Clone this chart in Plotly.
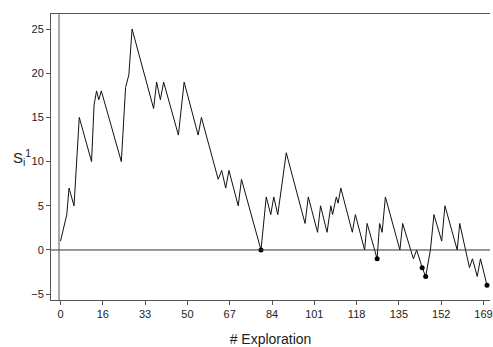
import plotly.graph_objects as go

# Vertices of the S_i^1 curve
x_vals = [0, 2.5, 3.4, 5.4, 7.5, 12.4, 13.4, 14.4, 15.3, 16.3, 24.3, 26.0, 27.3, 28.6,
          37.2, 38.4, 39.9, 41.2, 47.1, 49.4, 55.0, 56.3, 63.0, 64.4, 66.0, 67.3, 71.0,
          72.3, 80.1, 82.2, 84.0, 85.2, 86.8, 90.2, 97.7, 99.0, 102.7, 103.9, 106.5, 108.0,
          108.7, 110.2, 110.9, 112.0, 116.6, 117.8, 121.5, 122.5, 126.5, 127.5, 128.5,
          129.8, 135.6, 136.7, 141.0, 142.3, 144.5, 145.9, 147.8, 149.2, 152.3, 153.6,
          158.5, 159.5, 163.4, 164.6, 166.5, 167.8, 170.4]
y_vals = [1, 4, 7, 5, 15, 10, 16.4, 18, 17, 18, 10, 18.4, 19.8, 25,
          16, 19, 17, 19, 13, 19, 13, 15, 8, 9, 7, 9, 5,
          8, 0, 6, 4, 6, 4, 11, 3, 6, 2, 5, 2, 5,
          4, 6, 5.3, 7, 2, 4, 0, 3, -1, 3, 2,
          6, 0, 3, -1, 0, -2, -3, 0, 4, 1, 5,
          0, 3, -2, -1, -3, -1, -4]

# Highlighted points (black dots)
mark_x = [80.1, 126.5, 144.5, 145.9, 170.4]
mark_y = [0, -1, -2, -3, -4]

tick_labels = ["0", "16", "33", "50", "67", "84", "101", "118", "135", "152", "169"]
tick_pos = [k * 16.9 for k in range(len(tick_labels))]
y_ticks = [-5, 0, 5, 10, 15, 20, 25]

fig = go.Figure()
fig.add_trace(go.Scatter(x=x_vals, y=y_vals, mode="lines",
                         line=dict(color="#111111", width=1), hoverinfo="skip"))
fig.add_trace(go.Scatter(x=mark_x, y=mark_y, mode="markers",
                         marker=dict(color="black", size=5), hoverinfo="skip", cliponaxis=False))

x_range = [-3.8, 171.6]
y_range = [-5.66, 26.7]

# zero line and vertical reference line
fig.add_shape(type="line", xref="x", yref="y", x0=x_range[0], x1=x_range[1], y0=0, y1=0,
              line=dict(color="#333333", width=1))
fig.add_shape(type="line", xref="x", yref="y", x0=-0.6, x1=-0.6, y0=y_range[0], y1=y_range[1],
              line=dict(color="#555555", width=1))

font_family = "Liberation Sans, Arial, sans-serif"
fig.update_layout(
    width=493, height=347,
    margin=dict(l=51, r=0, t=14, b=47),
    paper_bgcolor="white", plot_bgcolor="white",
    showlegend=False,
    font=dict(family=font_family, size=11, color="#222222"),
    xaxis=dict(range=x_range, tickvals=tick_pos, ticktext=tick_labels,
               showgrid=False, zeroline=False, showline=True, mirror=True,
               linecolor="#555555", linewidth=1, ticks="outside", ticklen=4,
               tickcolor="#555555", tickfont=dict(size=11, color="#222222"),
               ticklabeloverflow="allow",
               title=dict(text="# Exploration", font=dict(size=14, color="#222222"), standoff=16)),
    yaxis=dict(range=y_range, tickvals=y_ticks, showgrid=False, zeroline=False,
               showline=True, linecolor="#555555", linewidth=1, ticks="outside",
               ticklen=4, tickcolor="#555555", tickfont=dict(size=11, color="#222222")),
    annotations=[dict(text="S<sub>i</sub><sup>1</sup>", xref="paper", yref="paper",
                      x=-0.04, y=(300 - 157) / 286, xanchor="right", yanchor="middle",
                      showarrow=False, font=dict(size=15, color="#222222"))],
)

fig.write_html("out.html", config={"displayModeBar": False},
               post_script="document.body.style.margin='0';document.body.style.overflow='hidden';")
